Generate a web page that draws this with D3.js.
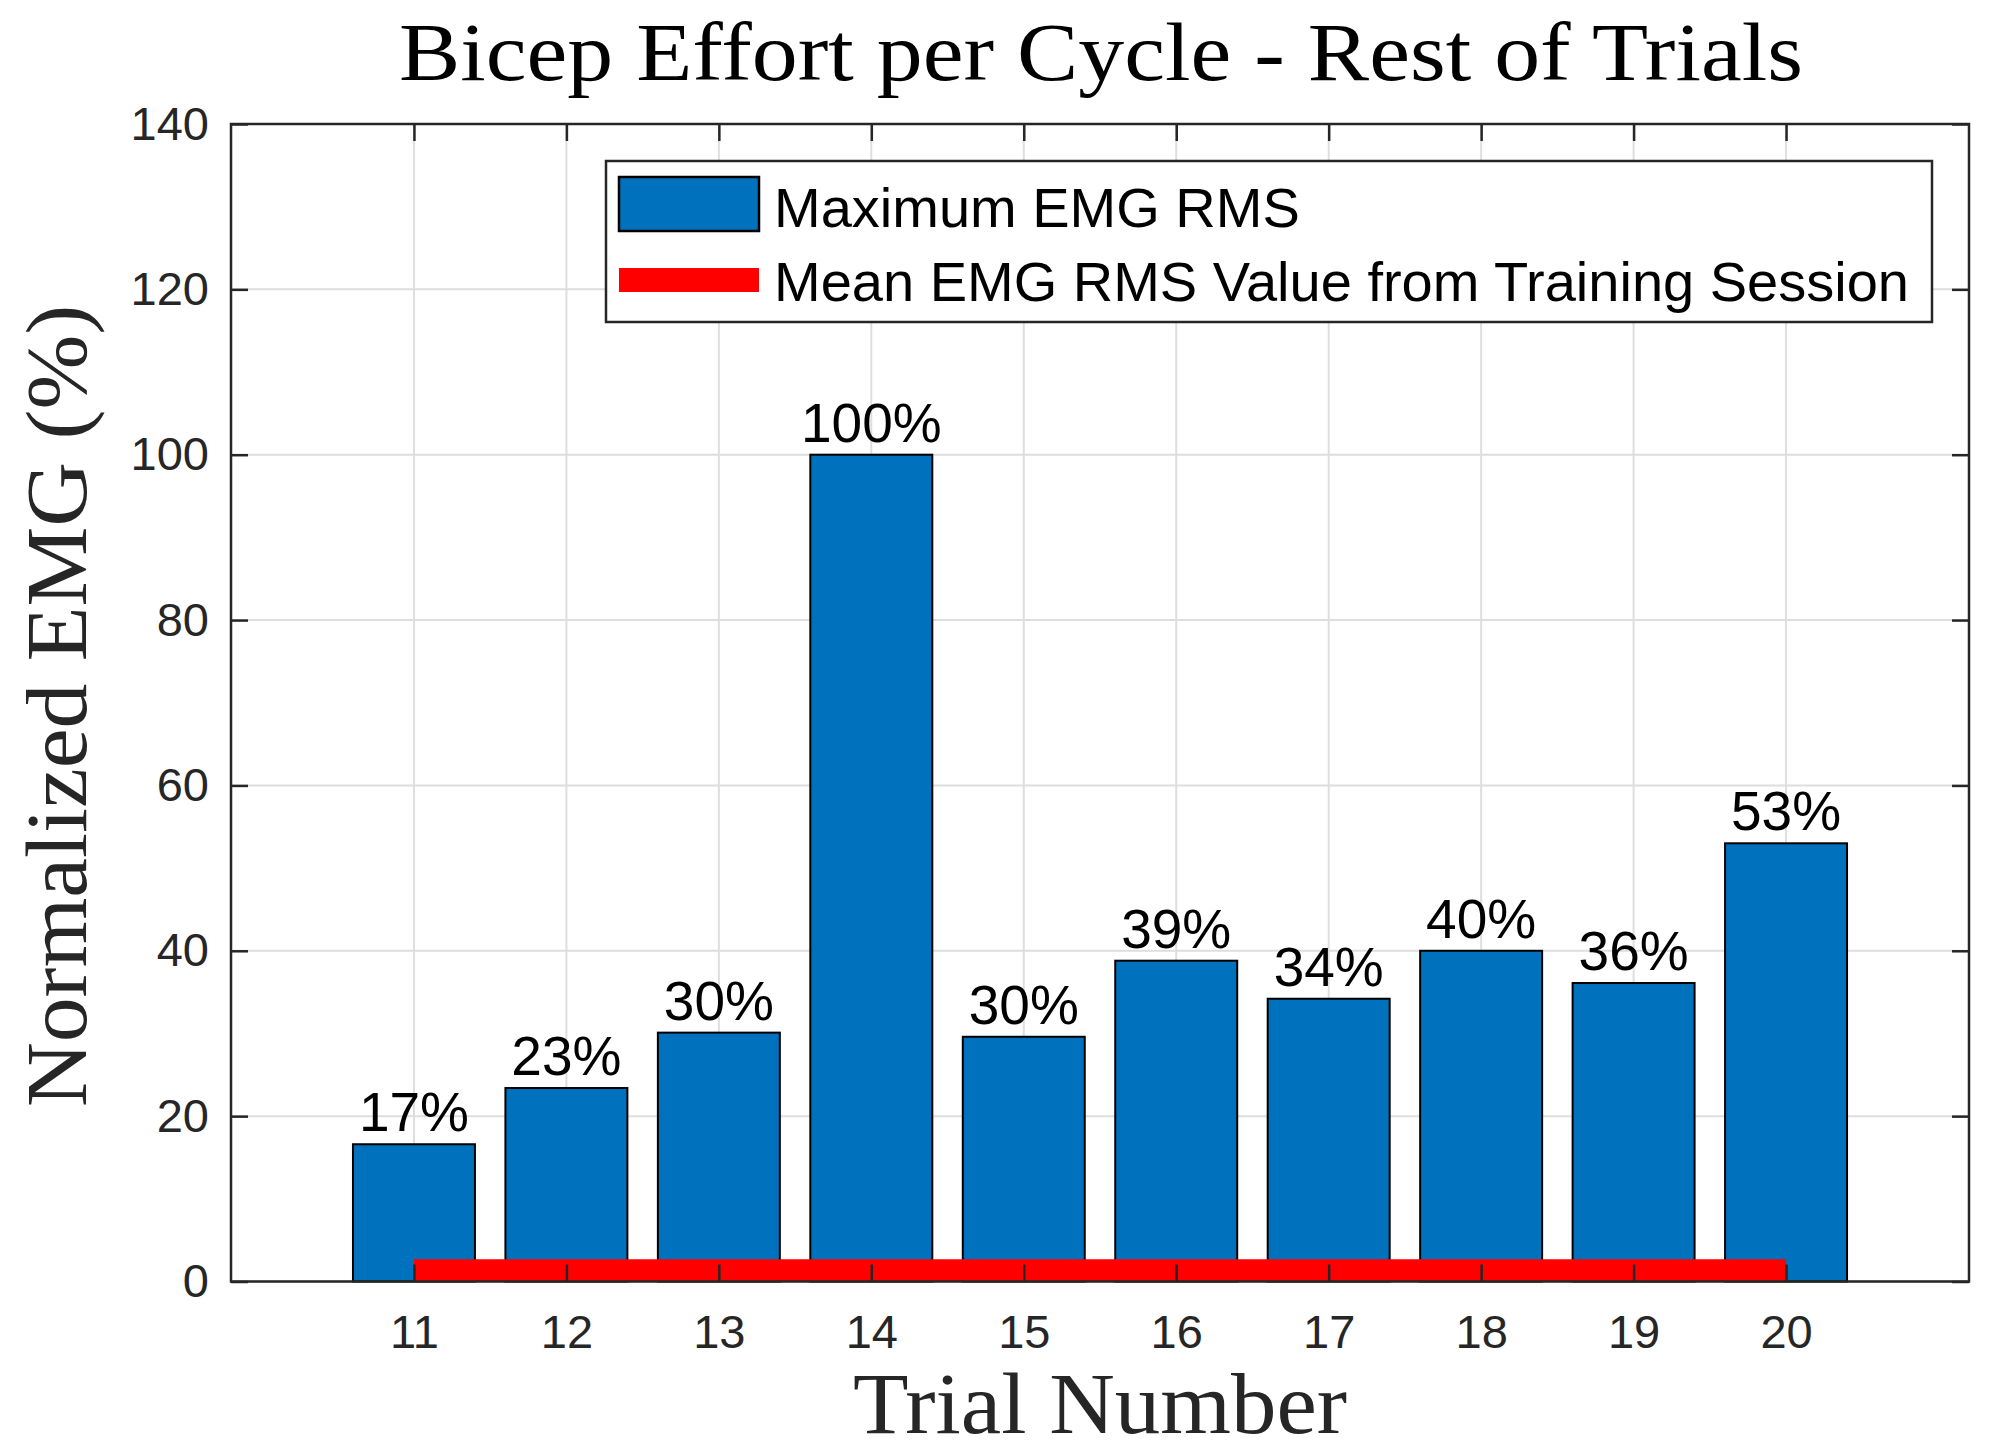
<!DOCTYPE html>
<html>
<head>
<meta charset="utf-8">
<script src="https://cdn.jsdelivr.net/npm/d3@7"></script>
<style>
  body { margin: 0; background: #fff; }
  svg { display: block; }
</style>
</head>
<body>
<div id="chart"></div>
<script>
// chart data
const trials = [11, 12, 13, 14, 15, 16, 17, 18, 19, 20];
const maxEmg = [16.6, 23.4, 30.1, 100, 29.6, 38.8, 34.2, 40.0, 36.1, 53.0];
const barLabels = ["17%", "23%", "30%", "100%", "30%", "39%", "34%", "40%", "36%", "53%"];
const meanEmg = 1.25;
const yTicks = [0, 20, 40, 60, 80, 100, 120, 140];
const legendLabels = ["Maximum EMG RMS", "Mean EMG RMS Value from Training Session"];

const W = 1989, H = 1452;
const plot = { left: 231, right: 1969, top: 124, bottom: 1281.5 };
const axisColor = "#262626";
const sans = "'Liberation Sans', Arial, Helvetica, sans-serif";
const serif = "'Liberation Serif', 'Times New Roman', serif";

const svg = d3.select("#chart").append("svg")
  .attr("width", W)
  .attr("height", H);

const x = d3.scaleLinear().domain([9.8, 21.2]).range([plot.left, plot.right]);
const y = d3.scaleLinear().domain([0, 140]).range([plot.bottom, plot.top]);

svg.append("clipPath").attr("id", "clip")
  .append("rect")
    .attr("x", plot.left).attr("y", plot.top)
    .attr("width", plot.right - plot.left)
    .attr("height", plot.bottom - plot.top);

// grid
const grid = svg.append("g");
grid.selectAll(".gx").data(trials).enter().append("line")
  .attr("x1", d => x(d)).attr("x2", d => x(d))
  .attr("y1", plot.top).attr("y2", plot.bottom)
  .style("stroke", "#dedede").style("stroke-width", 2);
grid.selectAll(".gy").data(yTicks).enter().append("line")
  .attr("x1", plot.left).attr("x2", plot.right)
  .attr("y1", d => y(d)).attr("y2", d => y(d))
  .style("stroke", "#dedede").style("stroke-width", 2);

// bars
const barW = 0.8;
svg.append("g").selectAll("rect").data(trials).enter().append("rect")
  .attr("x", d => x(d - barW / 2))
  .attr("width", x(barW) - x(0))
  .attr("y", (d, i) => y(maxEmg[i]))
  .attr("height", (d, i) => y(0) - y(maxEmg[i]))
  .style("fill", "#0072BD")
  .style("stroke", "#000")
  .style("stroke-width", 2);

// mean line
const line = d3.line().x(d => x(d)).y(() => y(meanEmg));
svg.append("path")
  .datum([trials[0], trials[trials.length - 1]])
  .attr("d", line)
  .attr("clip-path", "url(#clip)")
  .style("fill", "none")
  .style("stroke", "#ff0000")
  .style("stroke-width", 24);

// axes
const tickLen = 17;
function styleAxis(g) {
  g.select(".domain").remove();
  g.selectAll(".tick line").style("stroke", axisColor).style("stroke-width", 2.5);
  g.selectAll(".tick text")
    .style("font-family", sans)
    .style("font-size", "47px")
    .style("fill", axisColor);
}

svg.append("g")
  .attr("transform", `translate(0,${plot.bottom})`)
  .call(d3.axisBottom(x).tickValues(trials).tickFormat(d3.format("d"))
    .tickSizeInner(-tickLen).tickSizeOuter(0).tickPadding(33))
  .call(styleAxis);

svg.append("g")
  .attr("transform", `translate(0,${plot.top})`)
  .call(d3.axisTop(x).tickValues(trials).tickFormat("")
    .tickSizeInner(-tickLen).tickSizeOuter(0))
  .call(styleAxis);

svg.append("g")
  .attr("transform", `translate(${plot.left},0)`)
  .call(d3.axisLeft(y).tickValues(yTicks).tickFormat(d3.format("d"))
    .tickSizeInner(-tickLen).tickSizeOuter(0).tickPadding(22))
  .call(styleAxis);

svg.append("g")
  .attr("transform", `translate(${plot.right},0)`)
  .call(d3.axisRight(y).tickValues(yTicks).tickFormat("")
    .tickSizeInner(-tickLen).tickSizeOuter(0))
  .call(styleAxis);

svg.append("rect")
  .attr("x", plot.left).attr("y", plot.top)
  .attr("width", plot.right - plot.left)
  .attr("height", plot.bottom - plot.top)
  .style("fill", "none")
  .style("stroke", axisColor)
  .style("stroke-width", 2.5);

// bar value labels
svg.append("g").selectAll("text").data(trials).enter().append("text")
  .attr("x", d => x(d))
  .attr("y", (d, i) => y(maxEmg[i]) - 13)
  .attr("text-anchor", "middle")
  .style("font-family", sans)
  .style("font-size", "55px")
  .style("fill", "#000")
  .text((d, i) => barLabels[i]);

// title and axis labels
svg.append("text")
  .attr("x", 1101).attr("y", 80)
  .attr("text-anchor", "middle")
  .attr("textLength", 1404).attr("lengthAdjust", "spacingAndGlyphs")
  .style("font-family", serif).style("font-size", "83px").style("fill", "#000")
  .text("Bicep Effort per Cycle - Rest of Trials");

svg.append("text")
  .attr("x", 1100).attr("y", 1433)
  .attr("text-anchor", "middle")
  .attr("textLength", 494).attr("lengthAdjust", "spacingAndGlyphs")
  .style("font-family", serif).style("font-size", "87px").style("fill", "#262626")
  .text("Trial Number");

svg.append("text")
  .attr("transform", "translate(86,706) rotate(-90)")
  .attr("text-anchor", "middle")
  .attr("textLength", 802).attr("lengthAdjust", "spacingAndGlyphs")
  .style("font-family", serif).style("font-size", "87px").style("fill", "#262626")
  .text("Normalized EMG (%)");

// legend
const lg = svg.append("g");
lg.append("rect")
  .attr("x", 606).attr("y", 161)
  .attr("width", 1932 - 606).attr("height", 322 - 161)
  .style("fill", "#fff")
  .style("stroke", axisColor)
  .style("stroke-width", 2.5);
lg.append("rect")
  .attr("x", 619).attr("y", 177)
  .attr("width", 140).attr("height", 54)
  .style("fill", "#0072BD")
  .style("stroke", "#000")
  .style("stroke-width", 2.5);
lg.append("line")
  .attr("x1", 619).attr("x2", 759)
  .attr("y1", 280).attr("y2", 280)
  .style("stroke", "#ff0000")
  .style("stroke-width", 24);
lg.selectAll(".ltxt").data(legendLabels).enter().append("text")
  .attr("x", 774)
  .attr("y", (d, i) => i === 0 ? 227 : 301)
  .style("font-family", sans)
  .style("font-size", "56px")
  .style("fill", "#000")
  .text(d => d);
</script>
</body>
</html>
